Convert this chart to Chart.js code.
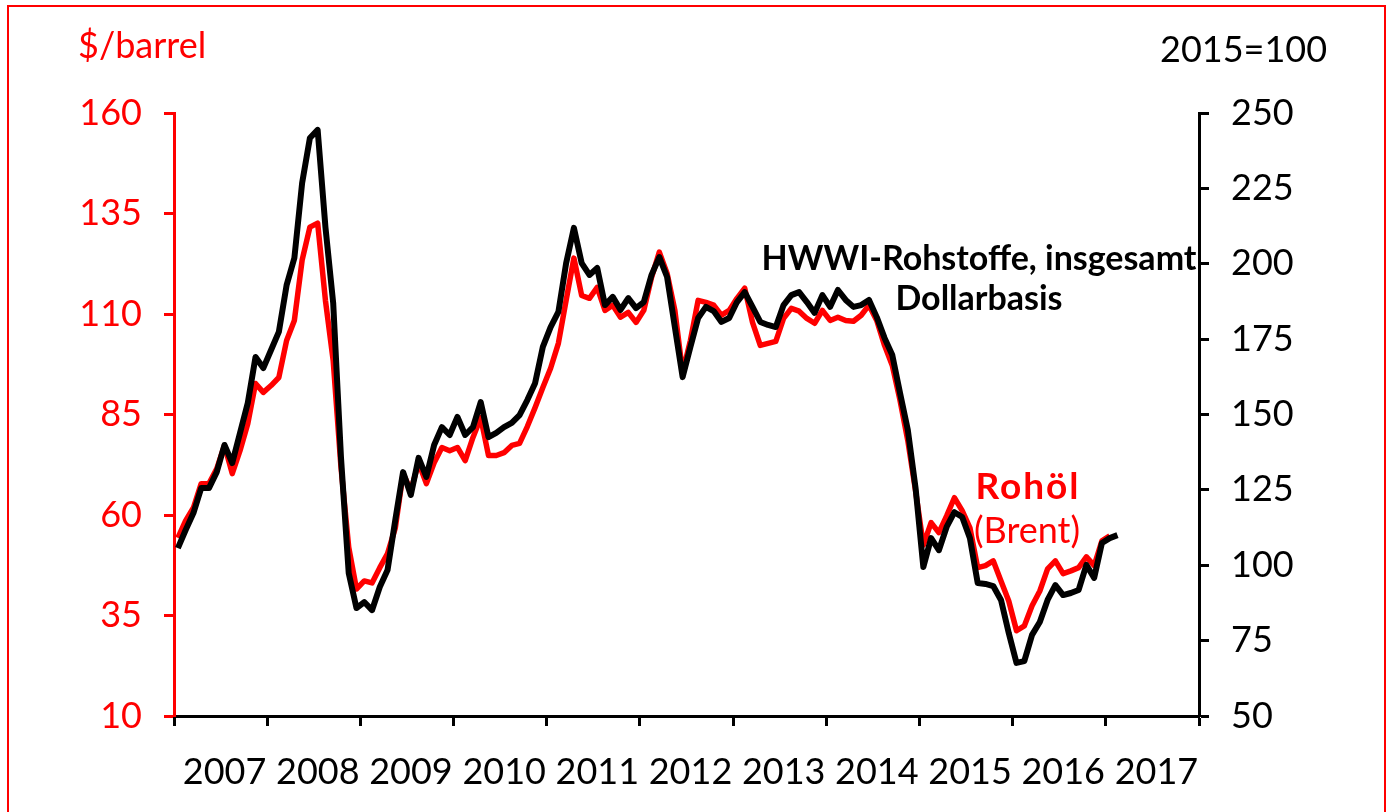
<!DOCTYPE html>
<html><head><meta charset="utf-8">
<script src="https://cdn.jsdelivr.net/npm/chart.js@4/dist/chart.umd.min.js"></script>
<style>
html,body{margin:0;padding:0;background:#fff;overflow:hidden}
#wrap{position:relative;width:1386px;height:812px}
#frame{position:absolute;left:7px;top:5px;width:1375px;height:900px;border:2px solid #ff0000;pointer-events:none}
</style></head><body>
<div id="wrap"><canvas id="c"></canvas><div id="frame"></div></div>
<script>
// Year labels on the x axis (one per year, monthly data from Jan 2007)
const yearLabels = ['2007','2008','2009','2010','2011','2012','2013','2014','2015','2016','2017'];

// Rohöl (Brent), $/barrel – left axis, monthly from Jan 2007
const brentUSD = [
 54.3,58.6,61.8,67.8,67.8,71.5,77.3,70.3,76.0,82.7,92.7,90.5,
 92.2,94.2,103.4,108.4,123.4,131.6,132.6,113.4,98.4,72.0,52.0,41.6,
 43.6,43.1,46.9,50.4,56.8,70.3,66.1,73.0,67.8,73.0,76.8,76.0,
 76.8,73.5,79.3,84.2,74.8,74.8,75.5,77.3,77.8,82.0,86.7,91.7,
 96.5,102.7,113.4,123.9,114.6,113.9,116.6,110.9,112.2,109.2,110.4,107.9,
 110.9,119.1,125.4,120.1,110.9,95.5,103.4,113.4,112.9,112.2,109.7,110.9,
 113.9,116.4,107.9,102.2,102.7,103.2,108.9,111.4,110.7,108.9,107.7,110.9,
 108.4,109.2,108.4,108.2,109.7,112.2,108.4,102.2,97.2,88.5,78.5,66.0,
 52.5,58.1,55.6,59.8,64.3,61.1,56.8,46.9,47.4,48.6,43.6,38.6,
 31.2,32.4,37.4,41.1,46.6,48.6,45.4,46.1,46.9,49.6,47.4,53.6,
 54.8
];

// HWWI-Rohstoffe insgesamt, Dollarbasis (2015=100) – right axis, monthly from Jan 2007
const hwwiIndex = [
 105.7,111.7,117.3,125.6,125.6,130.9,139.9,133.9,143.9,153.8,169.1,165.4,
 171.4,177.4,192.9,201.9,226.8,241.7,244.4,212.2,187.0,135.9,97.4,85.8,
 87.8,85.1,92.8,98.4,115.0,130.9,123.3,135.6,129.3,139.9,145.8,143.2,
 149.2,143.2,145.8,154.1,142.5,143.9,145.8,147.2,149.8,154.8,160.4,172.4,
 179.0,184.0,200.2,211.9,200.2,196.3,198.6,186.3,189.0,184.7,188.6,185.3,
 187.3,196.3,202.2,195.6,179.0,162.4,172.4,182.0,185.7,184.3,180.7,182.0,
 187.3,190.6,185.7,180.7,179.7,179.0,186.3,189.6,190.6,187.3,183.7,189.6,
 185.7,191.3,188.0,185.7,186.3,188.0,182.3,175.4,169.7,157.1,144.9,125.6,
 99.4,109.0,105.0,112.7,117.6,116.0,109.0,94.1,93.8,93.1,88.5,77.5,
 67.6,68.2,76.9,81.2,88.5,93.4,90.1,90.8,91.8,100.1,95.8,107.4,
 109.0,110.0
];

const FONT = 'Lato, "Open Sans", sans-serif';
const RED = '#ff0000';

const textPlugin = {
  id: 'texts',
  afterDraw(chart) {
    const ctx = chart.ctx;
    ctx.save();
    ctx.textBaseline = 'alphabetic';
    // axis unit labels
    ctx.font = '36px ' + FONT;
    ctx.fillStyle = RED; ctx.textAlign = 'left';
    ctx.fillText('$/barrel', 78, 58);
    ctx.fillStyle = '#000';
    ctx.fillText('2015=100', 1160, 62);
    // series labels
    ctx.textAlign = 'center';
    ctx.font = 'bold 34px ' + FONT;
    ctx.fillStyle = '#000';
    ctx.fillText('HWWI-Rohstoffe, insgesamt', 979, 270);
    ctx.fillText('Dollarbasis', 979, 310);
    ctx.fillStyle = RED;
    if ('letterSpacing' in ctx) ctx.letterSpacing = '2px';
    ctx.font = 'bold 37px ' + FONT;
    ctx.fillText('Rohöl', 1028, 499);
    if ('letterSpacing' in ctx) ctx.letterSpacing = '0px';
    ctx.font = '36px ' + FONT;
    ctx.fillText('(Brent)', 1027, 543);
    ctx.restore();
  }
};

new Chart(document.getElementById('c'), {
  type: 'line',
  data: {
    datasets: [
      { label: 'HWWI-Rohstoffe', data: hwwiIndex.map((v, i) => ({ x: i + 0.5, y: v })),
        yAxisID: 'y2', borderColor: '#000', borderWidth: 6, pointRadius: 0,
        borderJoinStyle: 'round', borderCapStyle: 'butt', tension: 0, order: 0 },
      { label: 'Rohöl (Brent)', data: brentUSD.map((v, i) => ({ x: i + 0.5, y: v })),
        yAxisID: 'y', borderColor: RED, borderWidth: 5.5, pointRadius: 0,
        borderJoinStyle: 'round', borderCapStyle: 'butt', tension: 0, order: 1 }
    ]
  },
  options: {
    responsive: true, maintainAspectRatio: false, animation: false,
    layout: { padding: { top: 113, left: 0, right: 0, bottom: 0 } },
    plugins: { legend: { display: false }, tooltip: { enabled: false } },
    scales: {
      x: {
        type: 'linear', min: 0, max: yearLabels.length * 12,
        afterFit: s => { s.height = 96; },
        border: { color: '#000', width: 3 },
        grid: { drawOnChartArea: false, tickLength: 10, tickWidth: 3,
          tickColor: c => (c.tick && c.tick.value % 12 === 0) ? '#000' : 'rgba(0,0,0,0)' },
        ticks: { stepSize: 6, autoSkip: false, maxRotation: 0, minRotation: 0,
          color: '#000', font: { family: FONT, size: 36 }, padding: 25, labelOffset: 4,
          callback: v => (v % 12 === 6) ? yearLabels[(v - 6) / 12] : '' }
      },
      y: {
        position: 'left', min: 10, max: 160,
        afterFit: s => { s.width = 174; },
        border: { color: RED, width: 3 },
        grid: { drawOnChartArea: false, tickLength: 10, tickWidth: 3, tickColor: RED },
        ticks: { stepSize: 25, color: RED, font: { family: FONT, size: 36 }, padding: 22 }
      },
      y2: {
        position: 'right', min: 50, max: 250,
        afterFit: s => { s.width = 187; },
        border: { color: '#000', width: 3 },
        grid: { drawOnChartArea: false, tickLength: 10, tickWidth: 3, tickColor: '#000' },
        ticks: { stepSize: 25, color: '#000', font: { family: FONT, size: 36 }, padding: 22 }
      }
    }
  },
  plugins: [textPlugin]
});
</script>
</body></html>
